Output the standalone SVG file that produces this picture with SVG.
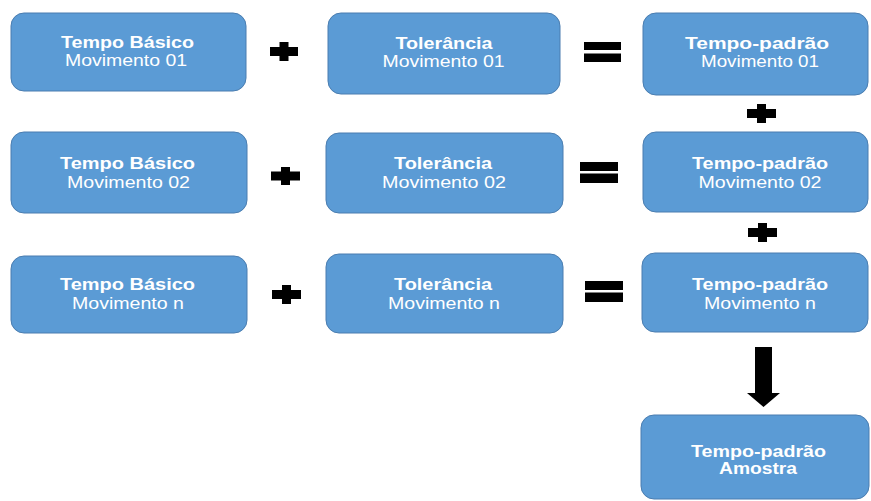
<svg xmlns="http://www.w3.org/2000/svg" width="871" height="501" viewBox="0 0 871 501">
<style>
.box{fill:#5B9BD5;stroke:#4A7DB0;stroke-width:1}
.t{font-family:"Liberation Sans",Arial,sans-serif;font-size:16px;fill:#ffffff;text-anchor:middle}
.b{font-weight:bold}
.op{fill:#000000}
</style>
<rect width="871" height="501" fill="#ffffff"/>
<g id="tb1"><rect class="box" x="11" y="13" width="235" height="78" rx="13"/>
<text class="t b" x="127.5" y="48" textLength="133" lengthAdjust="spacingAndGlyphs">Tempo Básico</text>
<text class="t" x="126" y="66" textLength="122" lengthAdjust="spacingAndGlyphs">Movimento  01</text></g>
<g id="tol1"><rect class="box" x="328" y="13" width="232" height="81" rx="13"/>
<text class="t b" x="444" y="49" textLength="97" lengthAdjust="spacingAndGlyphs">Tolerância</text>
<text class="t" x="443.5" y="67" textLength="122" lengthAdjust="spacingAndGlyphs">Movimento  01</text></g>
<g id="tp1"><rect class="box" x="643" y="13" width="225" height="82" rx="13"/>
<text class="t b" x="757" y="49" textLength="144" lengthAdjust="spacingAndGlyphs">Tempo-padrão</text>
<text class="t" x="760" y="67" textLength="118" lengthAdjust="spacingAndGlyphs">Movimento  01</text></g>
<g id="tb2"><rect class="box" x="11" y="132" width="236" height="81" rx="13"/>
<text class="t b" x="127.5" y="169" textLength="135" lengthAdjust="spacingAndGlyphs">Tempo Básico</text>
<text class="t" x="128.5" y="188" textLength="123" lengthAdjust="spacingAndGlyphs">Movimento  02</text></g>
<g id="tol2"><rect class="box" x="326" y="133" width="237" height="80" rx="13"/>
<text class="t b" x="443" y="169" textLength="98" lengthAdjust="spacingAndGlyphs">Tolerância</text>
<text class="t" x="444" y="188" textLength="124" lengthAdjust="spacingAndGlyphs">Movimento  02</text></g>
<g id="tp2"><rect class="box" x="643" y="132" width="225" height="80" rx="13"/>
<text class="t b" x="760" y="169" textLength="136" lengthAdjust="spacingAndGlyphs">Tempo-padrão</text>
<text class="t" x="760" y="188" textLength="123" lengthAdjust="spacingAndGlyphs">Movimento  02</text></g>
<g id="tb3"><rect class="box" x="11" y="256" width="236" height="77" rx="13"/>
<text class="t b" x="127.5" y="290" textLength="135" lengthAdjust="spacingAndGlyphs">Tempo Básico</text>
<text class="t" x="128" y="309" textLength="112" lengthAdjust="spacingAndGlyphs">Movimento  n</text></g>
<g id="tol3"><rect class="box" x="326" y="254" width="237" height="79" rx="13"/>
<text class="t b" x="443" y="290" textLength="98" lengthAdjust="spacingAndGlyphs">Tolerância</text>
<text class="t" x="444" y="309" textLength="112" lengthAdjust="spacingAndGlyphs">Movimento  n</text></g>
<g id="tp3"><rect class="box" x="642" y="253" width="226" height="79" rx="13"/>
<text class="t b" x="760" y="290" textLength="136" lengthAdjust="spacingAndGlyphs">Tempo-padrão</text>
<text class="t" x="760" y="309" textLength="112" lengthAdjust="spacingAndGlyphs">Movimento  n</text></g>
<g id="tpa"><rect class="box" x="641" y="415" width="228" height="84" rx="13"/>
<text class="t b" x="758.5" y="457" textLength="135" lengthAdjust="spacingAndGlyphs">Tempo-padrão</text>
<text class="t b" x="758" y="474" textLength="78" lengthAdjust="spacingAndGlyphs">Amostra</text></g>
<g id="connectors" class="op">
<path d="M270 47H279.5V42H288.5V47H298V56H288.5V61H279.5V56H270Z"/>
<path d="M271 171.5H281V167H290V171.5H300V180.5H290V185H281V180.5H271Z"/>
<path d="M272 290H282V285H291V290H301V299H291V304H282V299H272Z"/>
<path d="M747 109H757V104H766V109H776V118H766V123H757V118H747Z"/>
<path d="M748 228H758V223H767V228H777V237H767V242H758V237H748Z"/>
<rect x="584" y="42" width="37" height="8"/><rect x="584" y="53.5" width="37" height="8.5"/>
<rect x="580" y="162" width="38" height="9"/><rect x="580" y="173.5" width="38" height="9.5"/>
<rect x="585" y="281" width="38" height="9"/><rect x="585" y="292.5" width="38" height="9.5"/>
<polygon points="755,347 772,347 772,393 780,393 763.5,407 747,393 755,393"/>
</g>
</svg>
